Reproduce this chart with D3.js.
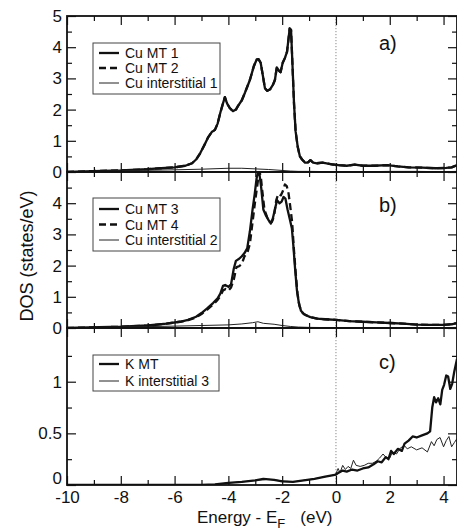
<!DOCTYPE html>
<html>
<head>
<meta charset="utf-8">
<script src="https://cdn.jsdelivr.net/npm/d3@7"></script>
<style>
  html, body { margin: 0; padding: 0; background: #fff; }
  svg { display: block; font-family: "Liberation Sans", Arial, Helvetica, sans-serif; }
</style>
</head>
<body>
<svg id="chart" width="457" height="530"></svg>
<script>
// ---------------- DATA ----------------
const xTicksMajor = [-10, -8, -6, -4, -2, 0, 2, 4];
const xTicksMinor = [-9, -7, -5, -3, -1, 1, 3];

// Panel a)
const eCuMT1 = [
  -10, -9, -8, -7, -6.5, -6, -5.6, -5.35, -5.2, -5.05,
  -4.9, -4.76, -4.62, -4.5, -4.4, -4.3, -4.2, -4.13, -4.05, -3.95,
  -3.83, -3.72, -3.64, -3.5, -3.38, -3.2, -3.05, -2.95, -2.88, -2.8,
  -2.72, -2.64, -2.55, -2.45, -2.34, -2.27, -2.2, -2.12, -2.06, -1.98,
  -1.9, -1.82, -1.76, -1.72, -1.67, -1.62, -1.56, -1.5, -1.42, -1.34,
  -1.26, -1.15, -1.05, -0.95, -0.85, -0.7, -0.5, -0.3, -0.1, 0.1,
  0.4, 0.7, 1.0, 1.4, 1.9, 2.3, 2.7, 3.2, 3.7, 4.1,
  4.3, 4.5];
const dosCuMT1 = [
  0.0, 0.03, 0.05, 0.09, 0.12, 0.15, 0.2, 0.28, 0.4, 0.6,
  0.85, 1.1, 1.28, 1.35, 1.55, 1.9, 2.2, 2.4, 2.2, 2.05,
  1.95, 2.0, 2.12, 2.3, 2.55, 2.95, 3.4, 3.6, 3.62, 3.5,
  3.1, 2.68, 2.6, 2.65, 2.8, 2.95, 3.35, 3.25, 3.2, 3.5,
  3.65, 3.85, 4.3, 4.6, 4.55, 3.5, 2.2, 1.3, 0.8, 0.5,
  0.4, 0.3, 0.3, 0.38, 0.3, 0.28, 0.3, 0.27, 0.24, 0.22,
  0.2, 0.24, 0.2, 0.2, 0.22, 0.18, 0.15, 0.14, 0.12, 0.13,
  0.15, 0.22];
const dosCuMT2 = [
  0.0, 0.03, 0.05, 0.09, 0.12, 0.15, 0.2, 0.28, 0.4, 0.6,
  0.85, 1.1, 1.28, 1.35, 1.55, 1.9, 2.2, 2.4, 2.2, 2.05,
  1.95, 2.0, 2.12, 2.3, 2.55, 2.95, 3.4, 3.6, 3.62, 3.5,
  3.1, 2.68, 2.6, 2.65, 2.8, 2.95, 3.35, 3.25, 3.2, 3.5,
  3.65, 3.85, 4.3, 4.6, 4.55, 3.5, 2.2, 1.3, 0.8, 0.5,
  0.4, 0.3, 0.3, 0.38, 0.3, 0.28, 0.3, 0.27, 0.24, 0.22,
  0.2, 0.24, 0.2, 0.2, 0.22, 0.18, 0.15, 0.14, 0.12, 0.13,
  0.15, 0.22];
const eCuInt1 = [-10, -8, -6, -5, -4, -3.5, -3, -2.5, -2, -1.7, -1.4, -1, 0, 1, 2, 3, 4, 4.5];
const dosCuInt1 = [0.0, 0.04, 0.07, 0.09, 0.12, 0.12, 0.1, 0.08, 0.05, 0.03, 0.02, 0.02, 0.01, 0.01, 0.02, 0.02, 0.01, 0.02];

// Panel b)
const eCuMT3 = [
  -10, -8, -7, -6.3, -5.8, -5.5, -5.2, -5.0, -4.8, -4.57,
  -4.4, -4.3, -4.2, -4.12, -4.0, -3.9, -3.8, -3.72, -3.6, -3.5,
  -3.4, -3.3, -3.2, -3.1, -3.02, -2.95, -2.9, -2.84, -2.78, -2.7,
  -2.6, -2.5, -2.42, -2.35, -2.27, -2.19, -2.1, -2.02, -1.95, -1.88,
  -1.8, -1.72, -1.64, -1.58, -1.52, -1.45, -1.38, -1.3, -1.2, -1.1,
  -0.95, -0.7, -0.4, 0, 0.5, 1, 1.5, 2, 2.5, 3,
  3.5, 4, 4.3, 4.5];
const dosCuMT3 = [
  0.0, 0.04, 0.08, 0.14, 0.2, 0.26, 0.36, 0.48, 0.62, 0.8,
  0.95, 1.1, 1.35, 1.38, 1.32, 1.4, 1.9, 2.15, 2.22, 2.3,
  2.4, 2.55, 3.1, 3.8, 4.3, 4.8, 5.0, 4.9, 4.5, 3.8,
  3.6, 3.45, 3.35, 3.5, 3.8, 4.1, 4.0, 4.05, 4.2, 4.15,
  3.8, 3.5, 3.2, 2.6, 1.9, 1.2, 0.8, 0.55, 0.45, 0.4,
  0.35, 0.3, 0.28, 0.26, 0.22, 0.2, 0.18, 0.16, 0.14, 0.11,
  0.1, 0.1, 0.12, 0.16];
const eCuMT4 = [
  -10, -8, -7, -6.3, -5.8, -5.5, -5.2, -5.0, -4.8, -4.57,
  -4.4, -4.3, -4.2, -4.1, -4.0, -3.9, -3.8, -3.7, -3.6, -3.5,
  -3.4, -3.3, -3.2, -3.1, -3.0, -2.92, -2.86, -2.8, -2.74, -2.66,
  -2.56, -2.46, -2.38, -2.3, -2.22, -2.14, -2.05, -1.97, -1.9, -1.83,
  -1.76, -1.7, -1.63, -1.57, -1.5, -1.43, -1.36, -1.28, -1.18, -1.08,
  -0.95, -0.7, -0.4, 0, 0.5, 1, 1.5, 2, 2.5, 3,
  3.5, 4, 4.3, 4.5];
const dosCuMT4 = [
  0.0, 0.04, 0.08, 0.14, 0.2, 0.25, 0.34, 0.45, 0.58, 0.75,
  0.9, 1.02, 1.2, 1.25, 1.2, 1.3, 1.55, 1.95, 1.98, 2.05,
  2.3, 2.4, 2.7, 3.4, 4.1, 4.6, 5.0, 4.9, 4.4, 3.8,
  3.55, 3.4, 3.4, 3.6, 4.1, 4.3, 4.25, 4.4, 4.6, 4.55,
  4.3, 3.9, 3.4, 2.6, 1.8, 1.1, 0.72, 0.52, 0.44, 0.4,
  0.35, 0.3, 0.28, 0.26, 0.22, 0.2, 0.18, 0.16, 0.14, 0.11,
  0.1, 0.1, 0.12, 0.16];
const eCuInt2 = [-10, -8, -6, -5, -4, -3.5, -3.1, -2.9, -2.7, -2.3, -2, -1.7, -1.4, -1, 0, 1, 2, 3, 4, 4.5];
const dosCuInt2 = [0.0, 0.03, 0.06, 0.08, 0.1, 0.13, 0.17, 0.2, 0.15, 0.12, 0.08, 0.05, 0.03, 0.02, 0.01, 0.01, 0.01, 0.01, 0.01, 0.02];

// Panel c)
const eKMT = [
  -10, -8, -6, -5, -4.5, -4, -3.5, -3, -2.7, -2.5,
  -2.3, -2, -1.6, -1.2, -0.8, -0.4, -0.1, 0, 0.1, 0.25,
  0.4, 0.6, 0.8, 1.0, 1.2, 1.4, 1.55, 1.7, 1.85, 1.95,
  2.05, 2.15, 2.3, 2.45, 2.55, 2.7, 2.85, 3.0, 3.2, 3.4,
  3.5, 3.58, 3.65, 3.72, 3.8, 3.88, 3.95, 4.02, 4.1, 4.17,
  4.25, 4.32, 4.4, 4.5];
const dosKMT = [
  0, 0, 0, 0, 0.005, 0.02, 0.03, 0.045, 0.06, 0.055,
  0.05, 0.035, 0.03, 0.045, 0.06, 0.08, 0.095, 0.1, 0.12, 0.14,
  0.13, 0.15, 0.14, 0.16, 0.17, 0.2, 0.23, 0.22, 0.27, 0.25,
  0.33, 0.3, 0.35, 0.33, 0.4, 0.43, 0.47, 0.46, 0.48, 0.5,
  0.52, 0.75, 0.85, 0.8, 0.84, 0.78, 0.92, 0.97, 1.06, 1.05,
  0.93, 0.98, 1.1, 1.22];
const eKInt3 = [
  -10, -8, -6, -5, -4.5, -4, -3.5, -3, -2.5, -2,
  -1.6, -1.2, -0.8, -0.4, -0.1, 0, 0.08, 0.15, 0.25, 0.35,
  0.45, 0.55, 0.65, 0.75, 0.9, 1.05, 1.2, 1.35, 1.5, 1.62,
  1.75, 1.85, 2.0, 2.1, 2.25, 2.4, 2.55, 2.65, 2.8, 3.0,
  3.2, 3.4, 3.55, 3.65, 3.75, 3.87, 4.0, 4.1, 4.2, 4.3,
  4.4, 4.5];
const dosKInt3 = [
  0, 0, 0, 0, 0.005, 0.02, 0.03, 0.045, 0.055, 0.04,
  0.03, 0.045, 0.06, 0.08, 0.095, 0.11, 0.16, 0.12, 0.19, 0.15,
  0.18, 0.16, 0.24, 0.19, 0.18, 0.19, 0.21, 0.21, 0.23, 0.26,
  0.3, 0.27, 0.26, 0.32, 0.3, 0.36, 0.38, 0.35, 0.37, 0.34,
  0.36, 0.32, 0.42, 0.38, 0.44, 0.46, 0.37, 0.43, 0.47, 0.37,
  0.41, 0.45];

const panelLabels = ["a)", "b)", "c)"];
const yMajorA = [0, 1, 2, 3, 4, 5];
const yMajorB = [0, 1, 2, 3, 4];
const yMinorAB = [0.5, 1.5, 2.5, 3.5, 4.5];
const yMajorC = [0, 0.5, 1];
const yMinorC = [0.25, 0.75, 1.25];

// ---------------- LAYOUT ----------------
const svg = d3.select("#chart");
const X0 = 67, X1 = 457;
const x = d3.scaleLinear().domain([-10, 4.5]).range([X0, X1]);
const fmt = d => String(d); // plain hyphen-minus as in the reference

const zip = (es, vs) => es.map((e, i) => [e, vs[i]]).filter(d => d[1] !== undefined);

const styles = {
  solid: { w: 2.3, dash: null, color: "#111" },
  dashed: { w: 2.3, dash: "7,4", color: "#111" },
  thin: { w: 1.0, dash: null, color: "#222" }
};

const panels = [
  {
    top: 16, bottom: 172, domain: [0, 5], major: yMajorA, minor: yMinorAB, label: panelLabels[0],
    labelPos: [379, 50],
    series: [
      { name: "Cu MT 2", data: zip(eCuMT1, dosCuMT2), st: "dashed" },
      { name: "Cu MT 1", data: zip(eCuMT1, dosCuMT1), st: "solid" },
      { name: "Cu interstitial 1", data: zip(eCuInt1, dosCuInt1), st: "thin" }
    ],
    legend: { x: 93, y: 43, w: 127, h: 51, rows: [["Cu MT 1", "solid"], ["Cu MT 2", "dashed"], ["Cu interstitial 1", "thin"]], y0: 53, dy: 15 }
  },
  {
    top: 172, bottom: 328, domain: [0, 5], major: yMajorB, minor: yMinorAB, label: panelLabels[1],
    labelPos: [379, 212],
    series: [
      { name: "Cu MT 4", data: zip(eCuMT4, dosCuMT4), st: "dashed" },
      { name: "Cu MT 3", data: zip(eCuMT3, dosCuMT3), st: "solid" },
      { name: "Cu interstitial 2", data: zip(eCuInt2, dosCuInt2), st: "thin" }
    ],
    legend: { x: 93, y: 198, w: 127, h: 53, rows: [["Cu MT 3", "solid"], ["Cu MT 4", "dashed"], ["Cu interstitial 2", "thin"]], y0: 209, dy: 15.5 }
  },
  {
    top: 328, bottom: 485, domain: [0, 1.52], major: yMajorC, minor: yMinorC, label: panelLabels[2],
    labelPos: [379, 369],
    series: [
      { name: "K interstitial 3", data: zip(eKInt3, dosKInt3), st: "thin" },
      { name: "K MT", data: zip(eKMT, dosKMT), st: "solid" }
    ],
    legend: { x: 93, y: 355, w: 126, h: 36, rows: [["K MT", "solid"], ["K interstitial 3", "thin"]], y0: 364, dy: 17 }
  }
];

const defs = svg.append("defs");

panels.forEach((p, i) => {
  const y = d3.scaleLinear().domain(p.domain).range([p.bottom, p.top]);
  const g = svg.append("g");
  const isLast = i === panels.length - 1;

  defs.append("clipPath").attr("id", "clip" + i)
    .append("rect").attr("x", X0).attr("y", p.top).attr("width", X1 - X0).attr("height", p.bottom - p.top);

  // Fermi level dotted line
  g.append("line")
    .attr("x1", x(0)).attr("x2", x(0)).attr("y1", p.top).attr("y2", p.bottom)
    .attr("stroke", "#888").attr("stroke-width", 1).attr("stroke-dasharray", "1.2,1.8");

  // series
  const line = d3.line().x(d => x(d[0])).y(d => y(d[1]));
  const sg = g.append("g").attr("clip-path", `url(#clip${i})`);
  p.series.forEach(s => {
    const st = styles[s.st];
    sg.append("path").datum(s.data)
      .attr("d", line).attr("fill", "none")
      .attr("stroke", st.color).attr("stroke-width", st.w)
      .attr("stroke-linejoin", "round")
      .attr("stroke-dasharray", st.dash);
  });

  // axes (ticks inward)
  const tickStyle = sel => {
    sel.select(".domain").remove();
    sel.selectAll(".tick line").attr("stroke", "#111").attr("stroke-width", 1.2);
    sel.selectAll(".tick text").attr("fill", "#111").attr("font-size", 17);
  };
  // left
  const la = g.append("g").attr("transform", `translate(${X0},0)`)
    .call(d3.axisLeft(y).tickValues(p.major).tickSize(-9).tickPadding(5).tickFormat(fmt))
    .call(tickStyle).attr("font-family", null);
  if (isLast) {
    la.selectAll(".tick text").filter(d => d === 0).attr("dy", "-0.08em");
  }
  g.append("g").attr("transform", `translate(${X0},0)`)
    .call(d3.axisLeft(y).tickValues(p.minor).tickSize(-5).tickFormat(""))
    .call(tickStyle);
  // right
  g.append("g").attr("transform", `translate(${X1},0)`)
    .call(d3.axisRight(y).tickValues(p.major).tickSize(-9).tickFormat(""))
    .call(tickStyle);
  g.append("g").attr("transform", `translate(${X1},0)`)
    .call(d3.axisRight(y).tickValues(p.minor).tickSize(-5).tickFormat(""))
    .call(tickStyle);
  // bottom
  g.append("g").attr("transform", `translate(0,${p.bottom})`)
    .call(d3.axisBottom(x).tickValues(xTicksMajor).tickSize(-9).tickPadding(6)
      .tickFormat(isLast ? fmt : ""))
    .call(tickStyle).attr("font-family", null);
  g.append("g").attr("transform", `translate(0,${p.bottom})`)
    .call(d3.axisBottom(x).tickValues(xTicksMinor).tickSize(-5).tickFormat(""))
    .call(tickStyle);
  // top
  g.append("g").attr("transform", `translate(0,${p.top})`)
    .call(d3.axisTop(x).tickValues(xTicksMajor).tickSize(-9).tickFormat(""))
    .call(tickStyle);
  g.append("g").attr("transform", `translate(0,${p.top})`)
    .call(d3.axisTop(x).tickValues(xTicksMinor).tickSize(-5).tickFormat(""))
    .call(tickStyle);

  // frame
  g.append("rect").attr("x", X0).attr("y", p.top).attr("width", X1 - X0).attr("height", p.bottom - p.top)
    .attr("fill", "none").attr("stroke", "#111").attr("stroke-width", 1.8);

  // panel label
  g.append("text").attr("x", p.labelPos[0]).attr("y", p.labelPos[1])
    .attr("font-size", 20).attr("fill", "#111").text(p.label);

  // legend
  const L = p.legend;
  const lg = g.append("g");
  lg.append("rect").attr("x", L.x).attr("y", L.y).attr("width", L.w).attr("height", L.h)
    .attr("fill", "#fff").attr("stroke", "#444").attr("stroke-width", 1);
  L.rows.forEach((r, k) => {
    const yy = L.y0 + k * L.dy;
    const st = styles[r[1]];
    lg.append("line").attr("x1", 99).attr("x2", 119).attr("y1", yy).attr("y2", yy)
      .attr("stroke", st.color).attr("stroke-width", st.w).attr("stroke-dasharray", st.dash);
    lg.append("text").attr("x", 125).attr("y", yy + 5).attr("font-size", 14).attr("fill", "#111").text(r[0]);
  });
});

// axis titles
svg.append("text")
  .attr("transform", "translate(33,256) rotate(-90)")
  .attr("text-anchor", "middle").attr("font-size", 18).attr("fill", "#111")
  .text("DOS (states/eV)");

const xt = svg.append("text").attr("x", 197).attr("y", 523).attr("font-size", 17).attr("fill", "#111");
xt.append("tspan").text("Energy - E");
xt.append("tspan").attr("font-size", 13).attr("dy", 5).text("F");
xt.append("tspan").attr("dy", -5).attr("dx", 15).text("(eV)");
</script>
</body>
</html>
